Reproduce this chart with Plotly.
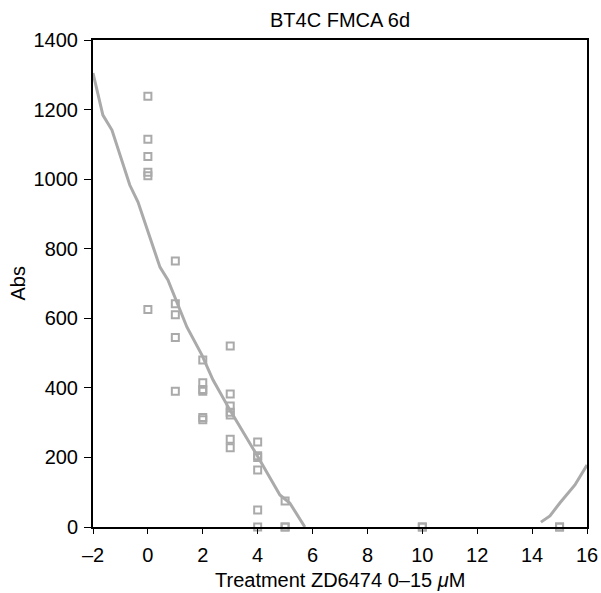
import plotly.graph_objects as go

# Data points (treatment dose, absorbance)
dose = [0, 0, 0, 0, 0, 0,
        1, 1, 1, 1, 1,
        2, 2, 2, 2, 2, 2,
        3, 3, 3, 3, 3, 3, 3,
        4, 4, 4, 4, 4, 4,
        5, 5, 5,
        10, 10,
        15, 15]
absorb = [1238, 1115, 1065, 1020, 1010, 625,
          765, 642, 610, 545, 390,
          480, 415, 395, 390, 315, 308,
          520, 382, 348, 330, 322, 252, 228,
          244, 205, 200, 164, 49, 0,
          75, 0, 0,
          0, 0,
          0, 0]

# Fitted curve (two visible segments)
fit_x1 = [-2.0, -1.64, -1.31, -0.66, -0.36, -0.04, 0.44, 0.73, 1.42, 1.97,
          2.37, 2.99, 3.97, 4.81, 5.17, 5.72]
fit_y1 = [1305, 1184, 1141, 983, 934, 859, 747, 710, 575, 494,
          423, 336, 207, 92, 69, 0]
fit_x2 = [14.32, 14.65, 15.01, 15.56, 16.0]
fit_y2 = [14, 32, 69, 121, 178]

x_ticks = [-2, 0, 2, 4, 6, 8, 10, 12, 14, 16]
x_tick_labels = ["–2", "0", "2", "4", "6", "8", "10", "12", "14", "16"]
y_ticks = [0, 200, 400, 600, 800, 1000, 1200, 1400]

grey = "#aaaaaa"
font = "Liberation Sans, Arial, sans-serif"
W, H = 601, 593
L, R, T, B = 93, 14, 40, 66

fig = go.Figure()
fig.add_trace(go.Scatter(x=fit_x1, y=fit_y1, mode="lines",
                         line=dict(color=grey, width=3), showlegend=False))
fig.add_trace(go.Scatter(x=fit_x2, y=fit_y2, mode="lines",
                         line=dict(color=grey, width=3), showlegend=False))
fig.add_trace(go.Scatter(x=dose, y=absorb, mode="markers",
                         marker=dict(symbol="square-open", size=7, color=grey,
                                     line=dict(width=2, color=grey)),
                         cliponaxis=False, showlegend=False))

fig.update_layout(
    width=W, height=H,
    margin=dict(l=L, r=R, t=T, b=B, autoexpand=False),
    paper_bgcolor="white", plot_bgcolor="white",
    font=dict(family=font, size=20, color="black"),
    xaxis=dict(range=[-2, 16], tickvals=x_ticks, ticktext=x_tick_labels,
               showgrid=False, zeroline=False, showline=True, linecolor="black",
               linewidth=2, mirror=True, ticks="outside", ticklen=5,
               tickcolor="black", tickfont=dict(size=20), automargin=False,
               ticklabelstandoff=4),
    yaxis=dict(range=[0, 1400], tickvals=y_ticks,
               showgrid=False, zeroline=False, showline=True, linecolor="black",
               linewidth=2, mirror=True, ticks="outside", ticklen=7,
               tickcolor="black", tickfont=dict(size=20), automargin=False,
               ticklabelstandoff=2),
    annotations=[
        dict(text="BT4C FMCA 6d", xref="paper", yref="paper",
             x=0.5, y=1 + (T - 20) / (H - T - B), xanchor="center", yanchor="middle",
             showarrow=False, font=dict(size=20)),
        dict(text="Treatment ZD6474 0–15 <i>μ</i>M", xref="paper", yref="paper",
             x=0.5, y=-(580 - (H - B)) / (H - T - B), xanchor="center", yanchor="middle",
             showarrow=False, font=dict(size=20)),
        dict(text="Abs", xref="paper", yref="paper", textangle=-90,
             x=-(L - 17) / (W - L - R), y=0.5, xanchor="center", yanchor="middle",
             showarrow=False, font=dict(size=20)),
    ],
)

fig.write_html("out.html",
               config={"displayModeBar": False},
               post_script="document.body.style.margin='0';document.body.style.overflow='hidden';")
